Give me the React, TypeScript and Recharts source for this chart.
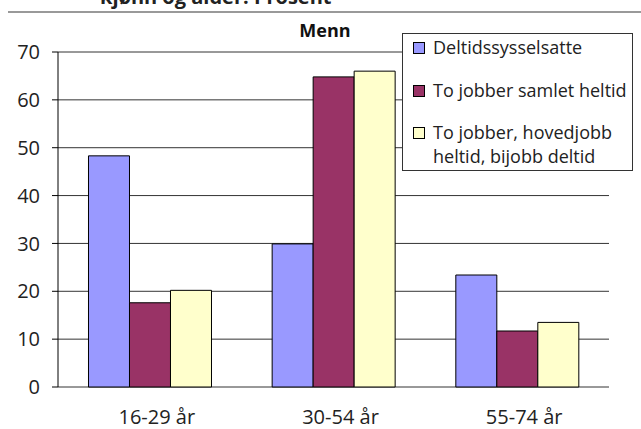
import React from 'react';
import { BarChart, Bar, XAxis, YAxis, CartesianGrid } from 'recharts';

const groups = ['16-29 år', '30-54 år', '55-74 år'];
const seriesNames = [
  'Deltidssysselsatte',
  'To jobber samlet heltid',
  'To jobber, hovedjobb heltid, bijobb deltid',
];
const seriesColors = ['#9999FF', '#993366', '#FFFFCC'];
const deltid = [48.3, 29.9, 23.4];
const samletHeltid = [17.6, 64.8, 11.7];
const hovedjobbHeltid = [20.2, 66.0, 13.5];
const yTicks = [0, 10, 20, 30, 40, 50, 60, 70];
const edgeTicks = [0, 1, 2, 3];

const data = groups.map((g, i) => ({
  group: g,
  s0: deltid[i],
  s1: samletHeltid[i],
  s2: hovedjobbHeltid[i],
}));

const FONT = '"Open Sans", "DejaVu Sans", sans-serif';

const LegendBox: React.FC = () => (
  <div
    style={{
      position: 'absolute',
      left: 402,
      top: 33,
      width: 229,
      height: 136,
      border: '1px solid #333',
      background: '#fff',
      fontFamily: FONT,
      fontSize: 18,
      color: '#222',
    }}
  >
    {seriesNames.map((name, i) => (
      <div
        key={name}
        style={{ position: 'absolute', left: 10, top: 1 + i * 42.5, width: 218 }}
      >
        <div
          style={{
            position: 'absolute',
            left: 0,
            top: 7,
            width: 10,
            height: 10,
            border: '1px solid #000',
            background: seriesColors[i],
          }}
        />
        <div style={{ marginLeft: 20, lineHeight: '24px', width: 198 }}>{name}</div>
      </div>
    ))}
  </div>
);

const App: React.FC = () => {
  return (
    <div
      style={{
        position: 'absolute',
        left: 0,
        top: 0,
        width: 641,
        height: 429,
        overflow: 'hidden',
        background: '#fff',
        fontFamily: FONT,
      }}
    >
      {/* heading of the page above, cut off by the crop */}
      <div
        style={{
          position: 'absolute',
          left: 100,
          top: -15,
          fontSize: 20,
          lineHeight: '24px',
          fontWeight: 700,
          color: '#222',
          whiteSpace: 'nowrap',
        }}
      >
        kjønn og alder. Prosent
      </div>
      <div
        style={{ position: 'absolute', left: 8, right: 0, top: 11, height: 2, background: '#999' }}
      />
      <div
        style={{
          position: 'absolute',
          left: 225,
          width: 200,
          top: 18,
          textAlign: 'center',
          fontSize: 18,
          lineHeight: '24px',
          fontWeight: 700,
          color: '#111',
        }}
      >
        Menn
      </div>
      <BarChart
        width={641}
        height={429}
        data={data}
        margin={{ top: 52, right: 32, left: 0, bottom: 0 }}
        barCategoryGap="16.6%"
        barGap={0}
      >
        <CartesianGrid vertical={false} stroke="#333" xAxisId="cat" yAxisId="left" />
        <XAxis
          xAxisId="edge"
          type="number"
          domain={[0, 3]}
          ticks={edgeTicks}
          tick={false}
          tickSize={6}
          height={0}
          axisLine={{ stroke: '#000' }}
          tickLine={{ stroke: '#000' }}
        />
        <XAxis
          xAxisId="cat"
          dataKey="group"
          height={42}
          axisLine={false}
          tickLine={false}
          tickSize={0}
          tickMargin={23}
          tick={{ fontSize: 20, fill: '#222', fontFamily: FONT, dx: 7 }}
        />
        <YAxis
          yAxisId="left"
          domain={[0, 70]}
          ticks={yTicks}
          width={58}
          tickSize={6}
          tickMargin={12}
          axisLine={{ stroke: '#000' }}
          tickLine={{ stroke: '#000' }}
          tick={{ fontSize: 20, fill: '#222', fontFamily: FONT }}
        />
        <YAxis
          yAxisId="right"
          orientation="right"
          domain={[0, 70]}
          width={0}
          tick={false}
          tickLine={false}
          axisLine={{ stroke: '#808080', strokeWidth: 2 }}
        />
        {['s0', 's1', 's2'].map((key, i) => (
          <Bar
            key={key}
            dataKey={key}
            name={seriesNames[i]}
            xAxisId="cat"
            yAxisId="left"
            fill={seriesColors[i]}
            stroke="#000"
            strokeWidth={1}
            isAnimationActive={false}
          />
        ))}
      </BarChart>
      <LegendBox />
    </div>
  );
};

export default App;
